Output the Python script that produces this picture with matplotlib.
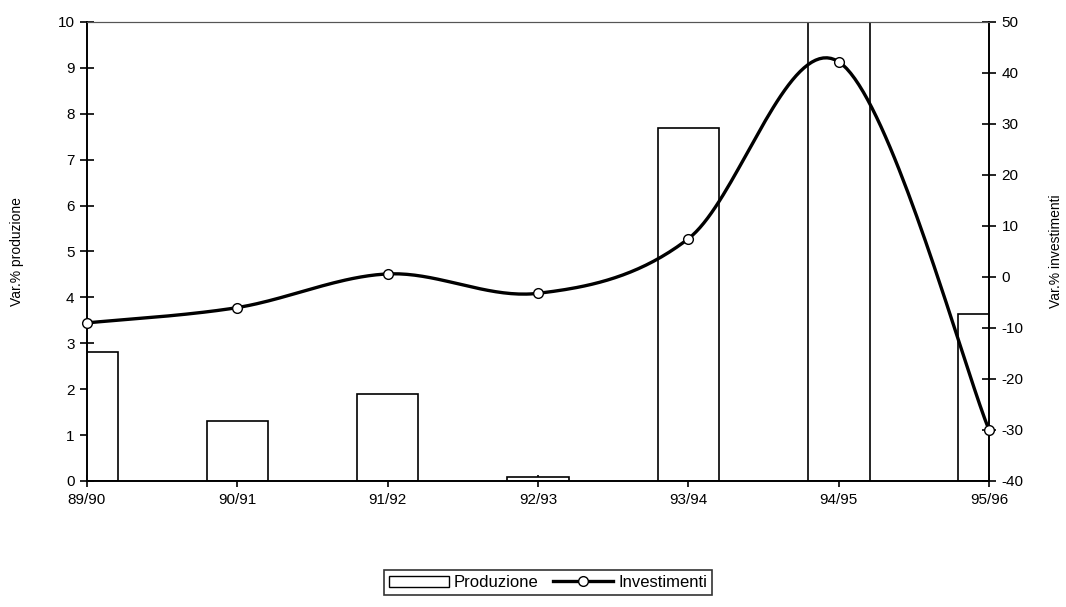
import matplotlib.pyplot as plt
import numpy as np
from matplotlib.lines import Line2D
from matplotlib.patches import Patch

# Data
anni = ["89/90", "90/91", "91/92", "92/93", "93/94", "94/95", "95/96"]
produzione = [2.8, 1.3, 1.9, 0.08, 7.7, 10.4, 3.63]      # left axis, %
investimenti = [-9.0, -6.0, 0.6, -3.2, 7.5, 42.2, -30.0]  # right axis, %

plt.rcParams['font.family'] = ['Liberation Sans', 'DejaVu Sans']
plt.rcParams['axes.unicode_minus'] = False

def smooth(xs, ys, n=40):
    # Excel-style smoothed line (Catmull-Rom through the points)
    xs = np.asarray(xs, float)
    ys = np.asarray(ys, float)
    px = np.concatenate([[xs[0]], xs, [xs[-1]]])
    py = np.concatenate([[ys[0]], ys, [ys[-1]]])
    outx, outy = [], []
    for i in range(1, len(px) - 2):
        t = np.linspace(0, 1, n)
        p0x, p1x, p2x, p3x = px[i-1], px[i], px[i+1], px[i+2]
        p0y, p1y, p2y, p3y = py[i-1], py[i], py[i+1], py[i+2]
        c1x, c1y = p1x + (p2x - p0x) / 6, p1y + (p2y - p0y) / 6
        c2x, c2y = p2x - (p3x - p1x) / 6, p2y - (p3y - p1y) / 6
        bx = (1-t)**3*p1x + 3*(1-t)**2*t*c1x + 3*(1-t)*t**2*c2x + t**3*p2x
        by = (1-t)**3*p1y + 3*(1-t)**2*t*c1y + 3*(1-t)*t**2*c2y + t**3*p2y
        outx.extend(bx)
        outy.extend(by)
    return outx, outy

x = np.arange(len(anni))

fig = plt.figure(figsize=(10.66, 6.07), dpi=100)
ax = fig.add_axes([0.0816, 0.2076, 0.8462, 0.7562])

ax.bar(x, produzione, width=0.41, color="white", edgecolor="black",
       linewidth=1.2, label="Produzione", zorder=2)
ax.set_xlim(0, 6)
ax.set_ylim(0, 10)
ax.set_yticks(range(0, 11))
ax.set_xticks(x)
ax.set_xticklabels(anni)
ax.set_ylabel("Var.% produzione", fontsize=10, labelpad=24)
ax.tick_params(axis="y", direction="inout", length=10, width=1.2, labelsize=11, pad=4)
ax.tick_params(axis="x", direction="inout", length=8, width=1.2, labelsize=11, pad=5)

ax2 = ax.twinx()
sx, sy = smooth(x, investimenti)
ax2.plot(sx, sy, color="black", linewidth=2.4, zorder=3, clip_on=False)
ax2.plot(x, investimenti, linestyle="none", marker="o", markersize=7,
         markerfacecolor="white", markeredgecolor="black", markeredgewidth=1,
         zorder=4, clip_on=False)
ax2.set_ylim(-40, 50)
ax2.set_yticks(range(-40, 51, 10))
ax2.set_ylabel("Var.% investimenti", fontsize=10, labelpad=18)
ax2.tick_params(axis="y", direction="inout", length=10, width=1.2, labelsize=11, pad=4)

for a in (ax, ax2):
    for s in a.spines.values():
        s.set_linewidth(1.2)
    a.spines["top"].set_color("#555555")
    a.spines["top"].set_linewidth(0.8)

# legend
handles = [Patch(facecolor="white", edgecolor="black", linewidth=1),
           Line2D([0], [0], color="black", linewidth=2.4, marker="o",
                  markersize=7, markerfacecolor="white", markeredgecolor="black")]
leg = fig.legend(handles, ["Produzione", "Investimenti"], loc="center",
                 bbox_to_anchor=(0.514, 0.04), ncol=2, frameon=True,
                 fancybox=False, edgecolor="black", fontsize=12,
                 handlelength=3.6, handletextpad=0.3, columnspacing=0.9,
                 borderpad=0.3)
leg.get_frame().set_linewidth(1.2)

plt.savefig("out.png", dpi=100)
